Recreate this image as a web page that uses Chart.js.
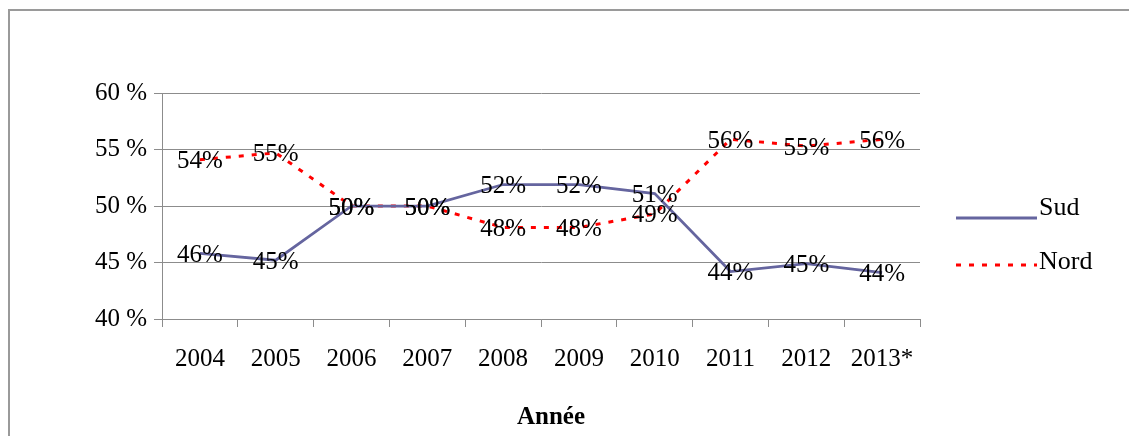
<!DOCTYPE html>
<html>
<head>
<meta charset="utf-8">
<script src="https://cdn.jsdelivr.net/npm/chart.js@4/dist/chart.umd.min.js"></script>
<style>
  html, body { margin: 0; padding: 0; background: #fff; overflow: hidden; width: 1129px; height: 436px; }
  #clip { position: absolute; left: 0; top: 0; width: 1129px; height: 436px; overflow: hidden; }
  #frame { position: absolute; left: 8px; top: 9px; width: 1300px; height: 600px; border: 2px solid #9a9a9a; box-sizing: border-box; }
  #wrap { position: absolute; left: 0; top: 0; width: 1129px; height: 436px; }
</style>
</head>
<body>
<div id="clip">
  <div id="frame"></div>
  <div id="wrap"><canvas id="c" width="1129" height="436"></canvas></div>
</div>
<script>
const categories = ['2004', '2005', '2006', '2007', '2008', '2009', '2010', '2011', '2012', '2013*'];
const sudValues  = [45.8, 45.2, 50.0, 50.0, 51.9, 51.9, 51.1, 44.2, 44.9, 44.1];
const nordValues = [54.1, 54.7, 50.0, 50.0, 48.1, 48.1, 49.3, 55.9, 55.3, 55.9];
const seriesNames = ['Sud', 'Nord'];
const yTicks = [40, 45, 50, 55, 60];
const axisTitle = 'Année';

const SERIF = "'Liberation Serif', 'Times New Roman', serif";
const sudColor = '#65659f';
const nordColor = '#ff0000';
const nordDash = [5, 8];

const labelPlugin = {
  id: 'valueLabels',
  afterDatasetsDraw(chart) {
    const ctx = chart.ctx;
    ctx.save();
    ctx.font = '25px ' + SERIF;
    ctx.fillStyle = '#000';
    ctx.textAlign = 'center';
    ctx.textBaseline = 'middle';
    chart.data.datasets.forEach((ds, di) => {
      const meta = chart.getDatasetMeta(di);
      meta.data.forEach((pt, i) => {
        ctx.fillText(Math.round(ds.data[i]) + '%', pt.x, pt.y + 2);
      });
    });
    ctx.restore();
  }
};

const legendPlugin = {
  id: 'sideLegend',
  afterDraw(chart) {
    const ctx = chart.ctx;
    const x0 = chart.chartArea.right + 36;
    const x1 = x0 + 81;
    const items = [
      { name: seriesNames[0], color: sudColor, dash: [], width: 3, lineY: 218, textY: 208 },
      { name: seriesNames[1], color: nordColor, dash: nordDash, width: 3, lineY: 265, textY: 262 }
    ];
    ctx.save();
    items.forEach(it => {
      ctx.beginPath();
      ctx.setLineDash(it.dash);
      ctx.strokeStyle = it.color;
      ctx.lineWidth = it.width;
      ctx.moveTo(x0, it.lineY);
      ctx.lineTo(x1, it.lineY);
      ctx.stroke();
      ctx.setLineDash([]);
      ctx.font = '26px ' + SERIF;
      ctx.fillStyle = '#000';
      ctx.textAlign = 'left';
      ctx.textBaseline = 'middle';
      ctx.fillText(it.name, x1 + 2, it.textY);
    });
    // axis title, slightly right of the plot centre as in the original
    const ca = chart.chartArea;
    ctx.font = 'bold 25px ' + SERIF;
    ctx.textAlign = 'center';
    ctx.textBaseline = 'middle';
    ctx.fillText(axisTitle, (ca.left + ca.right) / 2 + 10, 418);
    ctx.restore();
  }
};

new Chart(document.getElementById('c'), {
  type: 'line',
  data: {
    labels: categories,
    datasets: [
      { label: seriesNames[0], data: sudValues, borderColor: sudColor, borderWidth: 2.75, pointRadius: 0, tension: 0, fill: false },
      { label: seriesNames[1], data: nordValues, borderColor: nordColor, borderWidth: 3, borderDash: nordDash, pointRadius: 0, tension: 0, fill: false }
    ]
  },
  options: {
    responsive: false,
    animation: false,
    layout: { padding: { left: 0, top: 93, right: 209, bottom: 0 } },
    plugins: { legend: { display: false }, tooltip: { enabled: false } },
    scales: {
      x: {
        type: 'category',
        offset: true,
        grid: { display: true, offset: true, drawOnChartArea: false, drawTicks: true, tickLength: 8, color: '#8c8c8c', lineWidth: 1 },
        border: { display: true, color: '#8c8c8c', width: 1 },
        ticks: { color: '#000', font: { family: SERIF, size: 25 }, padding: 17, maxRotation: 0, autoSkip: false },
        title: { display: false },
        afterFit(s) { s.height = 117; }
      },
      y: {
        min: 40, max: 60,
        afterBuildTicks(s) { s.ticks = yTicks.map(v => ({ value: v })); },
        grid: { display: true, drawOnChartArea: true, drawTicks: true, tickLength: 8, color: '#8c8c8c', lineWidth: 1 },
        border: { display: true, color: '#8c8c8c', width: 1 },
        ticks: { color: '#000', font: { family: SERIF, size: 25 }, padding: 7, callback: v => v + ' %' },
        afterFit(s) { s.width = 162; }
      }
    }
  },
  plugins: [labelPlugin, legendPlugin]
});
</script>
</body>
</html>
